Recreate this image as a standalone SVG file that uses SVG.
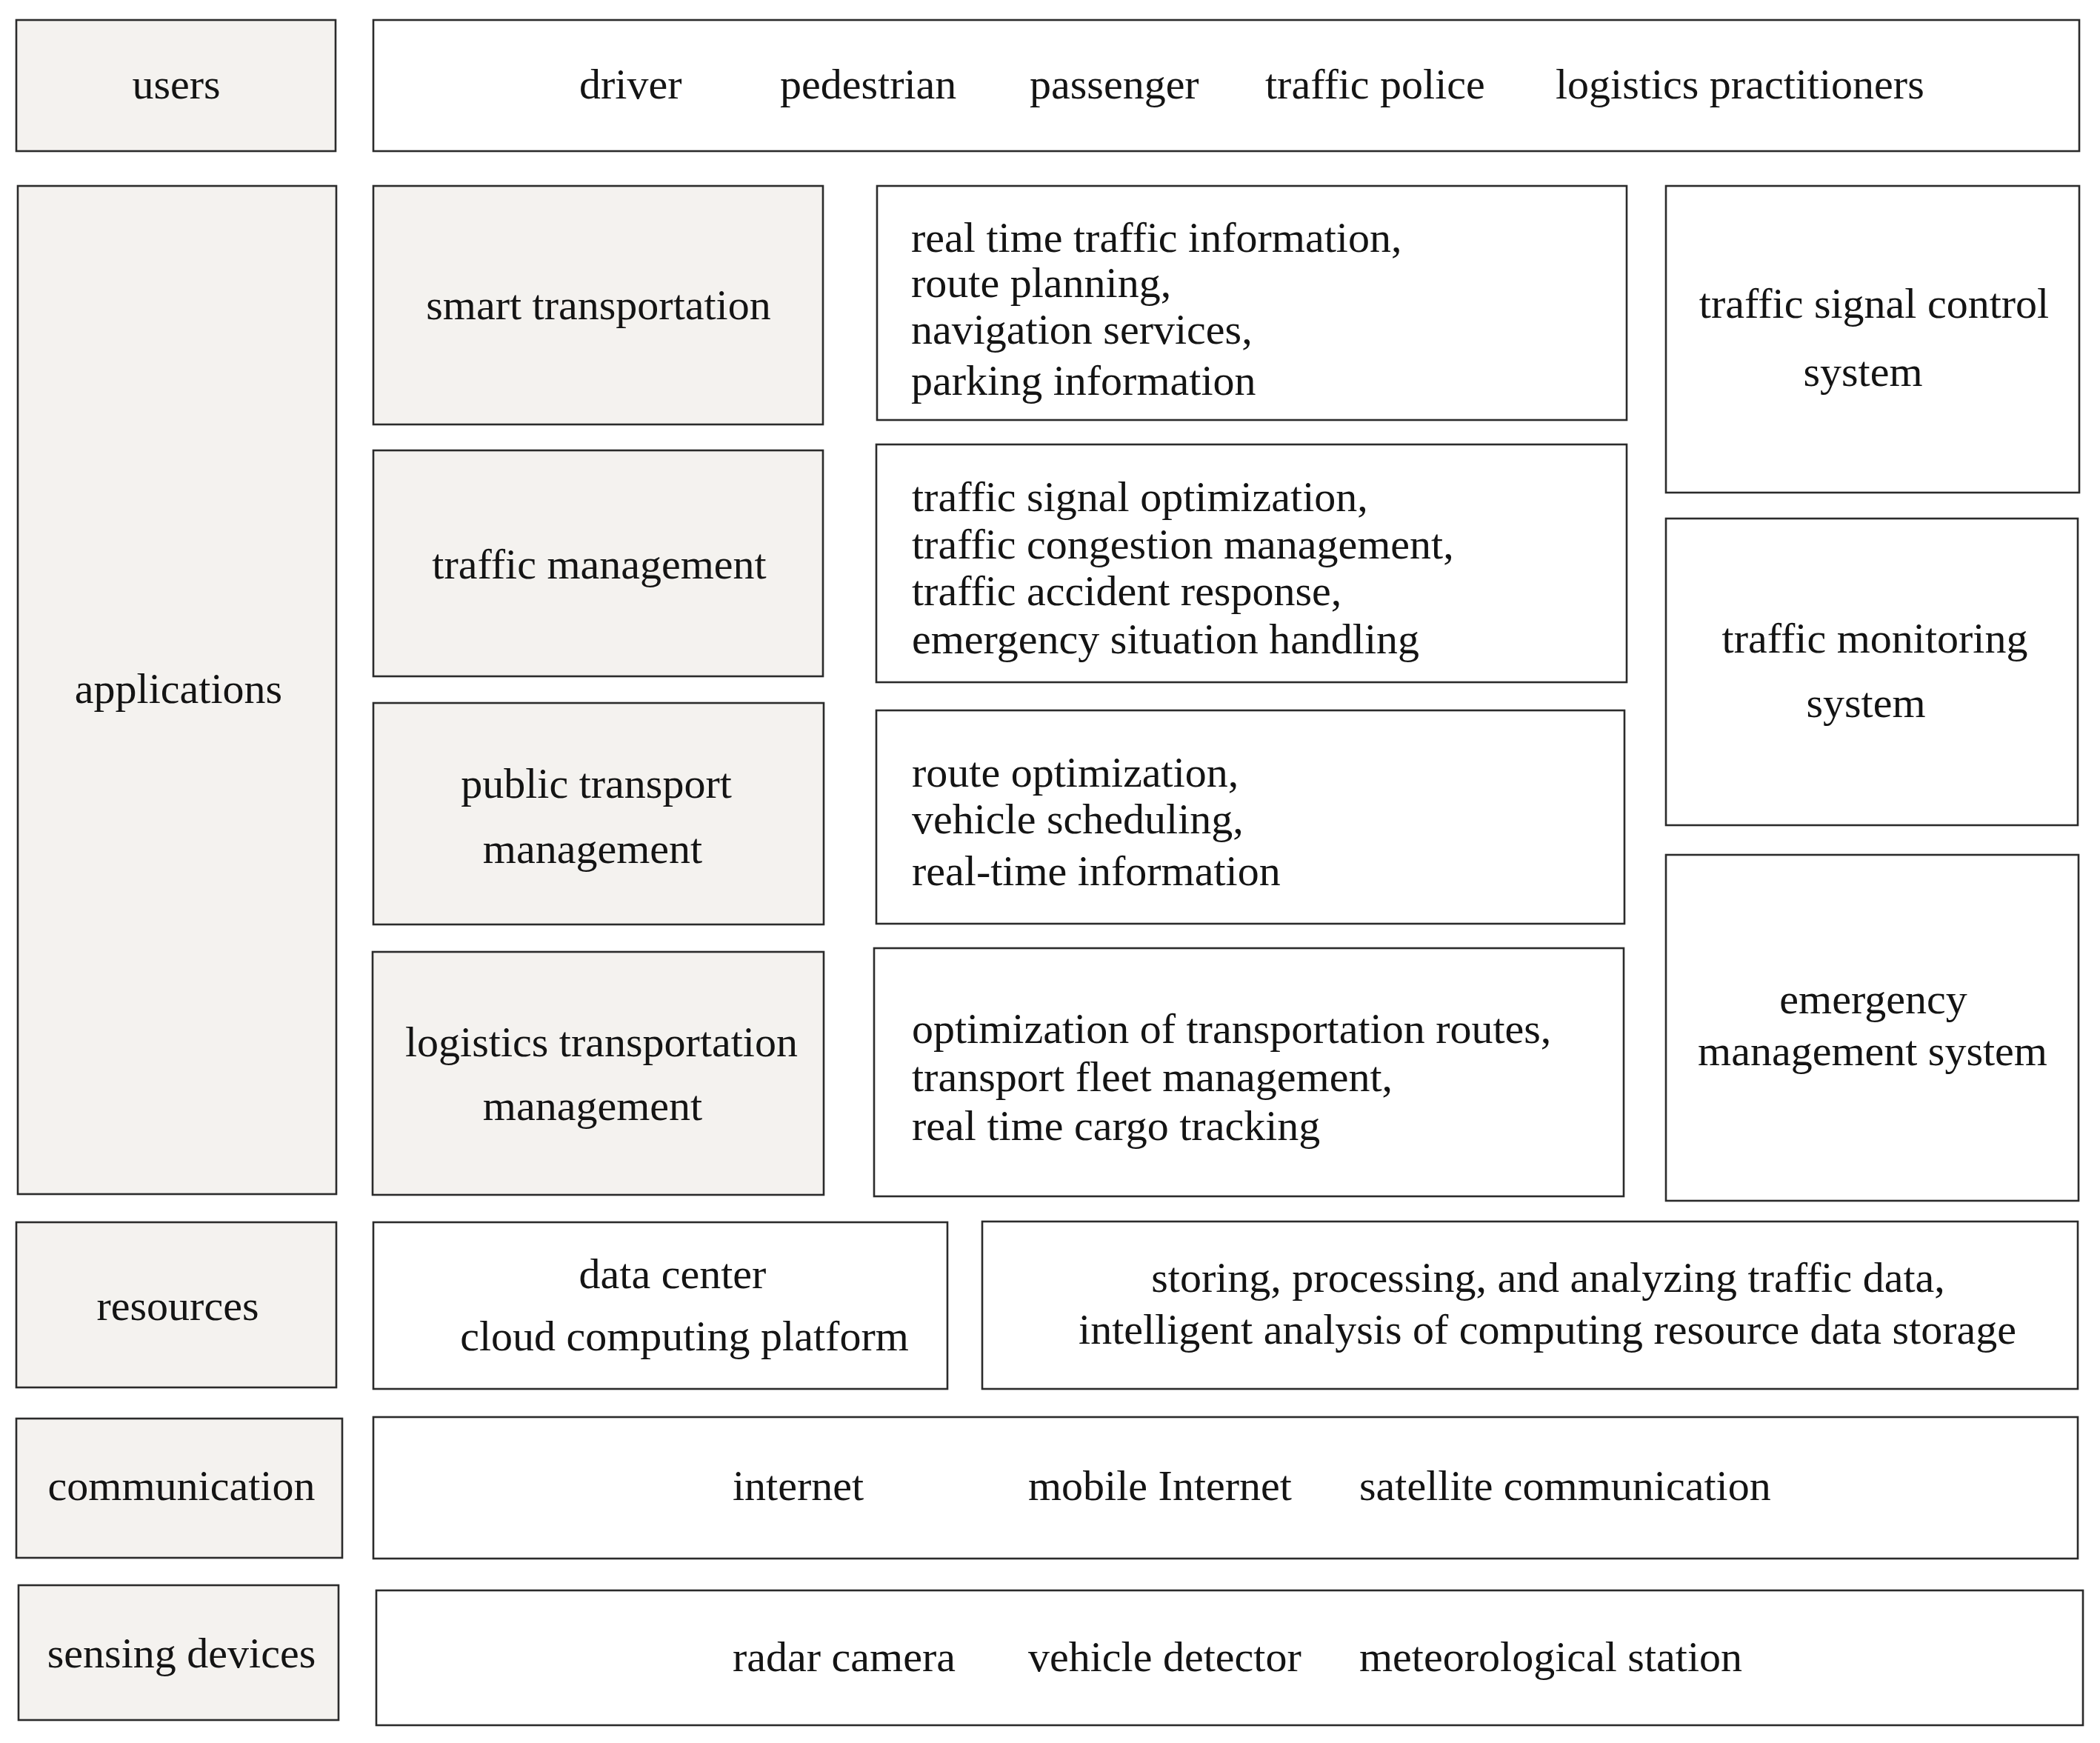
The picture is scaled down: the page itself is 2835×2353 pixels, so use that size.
<svg xmlns="http://www.w3.org/2000/svg" width="2835" height="2353" viewBox="0 0 2835 2353">
<style>
.g{fill:#f4f2ef;stroke:#2b2b2b;stroke-width:2.6}
.w{fill:#ffffff;stroke:#2b2b2b;stroke-width:2.6}
text{font-family:"Liberation Serif","Times New Roman",serif;font-size:58px;fill:#141414}
.c{text-anchor:middle}
</style>
<rect width="2835" height="2353" fill="#ffffff"/>
<g id="users"><rect class="g" x="22" y="27" width="431" height="177"/><text class="c" x="238" y="133">users</text></g>
<g id="users-list"><rect class="w" x="504" y="27" width="2303" height="177"/>
<text x="782" y="133">driver</text><text x="1053" y="133">pedestrian</text><text x="1390" y="133">passenger</text><text x="1708" y="133">traffic police</text><text x="2100" y="133">logistics practitioners</text></g>
<g id="applications"><rect class="g" x="24" y="251" width="430" height="1361"/><text class="c" x="241" y="949">applications</text></g>
<g id="smart-transportation"><rect class="g" x="504" y="251" width="607" height="322"/><text class="c" x="808" y="431">smart transportation</text></g>
<g id="traffic-management"><rect class="g" x="504" y="608" width="607" height="305"/><text class="c" x="809" y="781">traffic management</text></g>
<g id="public-transport"><rect class="g" x="504" y="949" width="608" height="299"/><text class="c" x="805" y="1077">public transport</text><text class="c" x="800" y="1165">management</text></g>
<g id="logistics"><rect class="g" x="503" y="1285" width="609" height="328"/><text class="c" x="812" y="1426">logistics transportation</text><text class="c" x="800" y="1512">management</text></g>
<g id="smart-detail"><rect class="w" x="1184" y="251" width="1012" height="316"/>
<text x="1230" y="340">real time traffic information,</text><text x="1230" y="401">route planning,</text><text x="1230" y="464">navigation services,</text><text x="1230" y="533">parking information</text></g>
<g id="management-detail"><rect class="w" x="1183" y="600" width="1013" height="321"/>
<text x="1231" y="690">traffic signal optimization,</text><text x="1231" y="754">traffic congestion management,</text><text x="1231" y="817">traffic accident response,</text><text x="1231" y="882">emergency situation handling</text></g>
<g id="public-detail"><rect class="w" x="1183" y="959" width="1010" height="288"/>
<text x="1231" y="1062">route optimization,</text><text x="1231" y="1125">vehicle scheduling,</text><text x="1231" y="1195">real-time information</text></g>
<g id="logistics-detail"><rect class="w" x="1180" y="1280" width="1012" height="335"/>
<text x="1231" y="1408">optimization of transportation routes,</text><text x="1231" y="1473">transport fleet management,</text><text x="1231" y="1539">real time cargo tracking</text></g>
<g id="signal-control"><rect class="w" x="2249" y="251" width="558" height="414"/><text class="c" x="2530" y="429">traffic signal control</text><text class="c" x="2515" y="521">system</text></g>
<g id="monitoring"><rect class="w" x="2249" y="700" width="556" height="414"/><text class="c" x="2531" y="881">traffic monitoring</text><text class="c" x="2519" y="968">system</text></g>
<g id="emergency"><rect class="w" x="2249" y="1154" width="557" height="467"/><text class="c" x="2529" y="1368">emergency</text><text class="c" x="2528" y="1438">management system</text></g>
<g id="resources"><rect class="g" x="22" y="1650" width="432" height="223"/><text class="c" x="240" y="1782">resources</text></g>
<g id="data-center"><rect class="w" x="504" y="1650" width="775" height="225"/><text class="c" x="908" y="1739">data center</text><text class="c" x="924" y="1823">cloud computing platform</text></g>
<g id="data-processing"><rect class="w" x="1326" y="1649" width="1479" height="226"/><text class="c" x="2090" y="1744">storing, processing, and analyzing traffic data,</text><text class="c" x="2089" y="1814">intelligent analysis of computing resource data storage</text></g>
<g id="communication"><rect class="g" x="22" y="1915" width="440" height="188"/><text class="c" x="245" y="2025">communication</text></g>
<g id="communication-list"><rect class="w" x="504" y="1913" width="2301" height="191"/>
<text x="989" y="2025">internet</text><text x="1388" y="2025">mobile Internet</text><text x="1835" y="2025">satellite communication</text></g>
<g id="sensing"><rect class="g" x="25" y="2140" width="432" height="182"/><text class="c" x="245" y="2251">sensing devices</text></g>
<g id="sensing-list"><rect class="w" x="508" y="2147" width="2304" height="182"/>
<text x="989" y="2256">radar camera</text><text x="1388" y="2256">vehicle detector</text><text x="1835" y="2256">meteorological station</text></g>
<g id="connectors"></g>
</svg>
